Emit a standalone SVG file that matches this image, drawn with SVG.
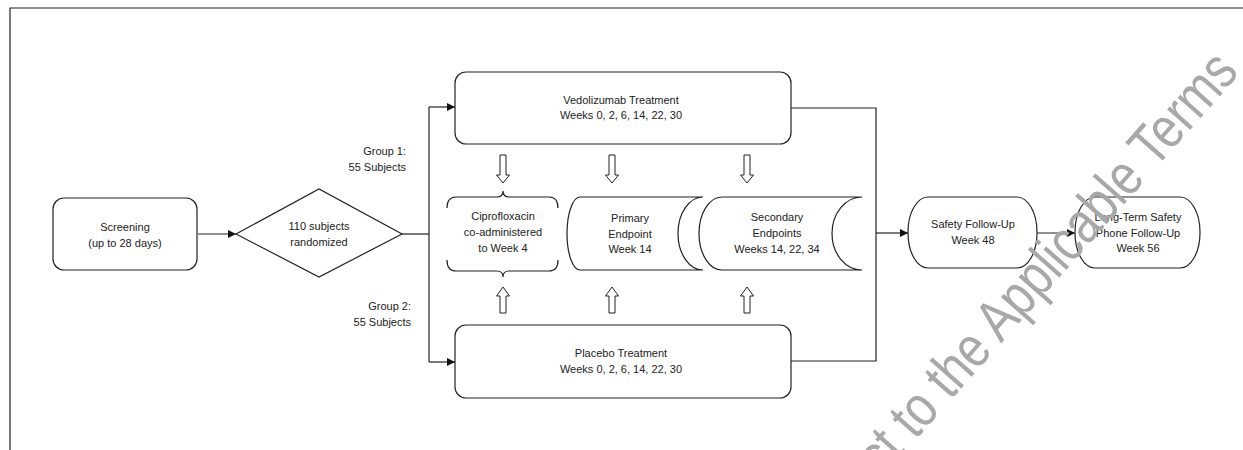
<svg xmlns="http://www.w3.org/2000/svg" width="1243" height="450" viewBox="0 0 1243 450">
  <defs>
    <marker id="ah" viewBox="0 0 10 10" refX="10" refY="5" markerWidth="8" markerHeight="8" markerUnits="userSpaceOnUse" orient="auto">
      <path d="M0,0 L10,5 L0,10 Z" fill="#111"/>
    </marker>
    <style>
      .box { fill: #fff; stroke: #222; stroke-width: 1.2; }
      .ln { fill: none; stroke: #222; stroke-width: 1.2; }
      .blk { fill: #fff; stroke: #222; stroke-width: 1; }
      text { font-family: "Liberation Sans", Arial, sans-serif; font-size: 11px; fill: #222; }
      .c { text-anchor: middle; }
      .r { text-anchor: end; }
      .wm { font-family: "Liberation Sans", Arial, sans-serif; font-size: 58px; fill: #a8a8a8; }
    </style>
  </defs>
  <rect width="1243" height="450" fill="#fff"/>
  <path class="ln" d="M10,450 L10,8 L1243,8"/>

  <g id="connectors">
    <path class="ln" d="M198,234 L236,234" marker-end="url(#ah)"/>
    <path class="ln" d="M402,234 L429,234"/>
    <path class="ln" d="M429,107 L429,362"/>
    <path class="ln" d="M429,107 L455,107" marker-end="url(#ah)"/>
    <path class="ln" d="M429,362 L455,362" marker-end="url(#ah)"/>
    <path class="ln" d="M791,108 L876,108 L876,361 L791,361"/>
    <path class="ln" d="M876,233 L908,233" marker-end="url(#ah)"/>
    <path class="ln" d="M1037,233 L1075,233" marker-end="url(#ah)"/>
    <path class="blk" d="M500,155 L506,155 L506,175 L509.5,175 L503,183 L496.5,175 L500,175 Z"/>
    <path class="blk" d="M609,155 L615,155 L615,175 L618.5,175 L612,183 L605.5,175 L609,175 Z"/>
    <path class="blk" d="M744,155 L750,155 L750,175 L753.5,175 L747,183 L740.5,175 L744,175 Z"/>
    <path class="blk" d="M500,313 L506,313 L506,296 L509.5,296 L503,287 L496.5,296 L500,296 Z"/>
    <path class="blk" d="M609,313 L615,313 L615,296 L618.5,296 L612,287 L605.5,296 L609,296 Z"/>
    <path class="blk" d="M744,313 L750,313 L750,296 L753.5,296 L747,287 L740.5,296 L744,296 Z"/>
  </g>

  <g id="screening">
    <rect class="box" x="53" y="198" width="144" height="72" rx="11"/>
    <text class="c" x="125" y="231">Screening</text>
    <text class="c" x="125" y="247">(up to 28 days)</text>
  </g>

  <g id="randomized">
    <path class="box" d="M236,234 L319,189 L402,234 L319,277 Z"/>
    <text class="c" x="319" y="230">110 subjects</text>
    <text class="c" x="319" y="246">randomized</text>
  </g>

  <g id="group1-label">
    <text class="r" x="406" y="155">Group 1:</text>
    <text class="r" x="406" y="171">55 Subjects</text>
  </g>
  <g id="group2-label">
    <text class="r" x="411" y="310">Group 2:</text>
    <text class="r" x="411" y="326">55 Subjects</text>
  </g>

  <g id="vedolizumab">
    <rect class="box" x="455" y="72" width="336" height="72" rx="11"/>
    <text class="c" x="621" y="104">Vedolizumab Treatment</text>
    <text class="c" x="621" y="119">Weeks 0, 2, 6, 14, 22, 30</text>
  </g>

  <g id="placebo">
    <rect class="box" x="455" y="325" width="336" height="73" rx="11"/>
    <text class="c" x="621" y="357">Placebo Treatment</text>
    <text class="c" x="621" y="373">Weeks 0, 2, 6, 14, 22, 30</text>
  </g>

  <g id="ciprofloxacin">
    <path class="ln" d="M447,208 Q447,197 456,197 L497,197 Q503,197 503,191 Q503,197 509,197 L549,197 Q558,197 558,208"/>
    <path class="ln" d="M447,260 Q447,271 456,271 L497,271 Q503,271 503,277 Q503,271 509,271 L549,271 Q558,271 558,260"/>
    <text class="c" x="503" y="220">Ciprofloxacin</text>
    <text class="c" x="503" y="236">co-administered</text>
    <text class="c" x="503" y="252">to Week 4</text>
  </g>

  <g id="primary-endpoint">
    <path class="box" d="M580,197 L703,197 A25,36.5 0 0 0 703,270 L580,270 A13,36.5 0 0 1 580,197 Z"/>
    <text class="c" x="630" y="222">Primary</text>
    <text class="c" x="630" y="238">Endpoint</text>
    <text class="c" x="630" y="253">Week 14</text>
  </g>

  <g id="secondary-endpoints">
    <path class="box" d="M722,197 L862,197 A30,36.5 0 0 0 862,270 L722,270 A23,36.5 0 0 1 722,197 Z"/>
    <text class="c" x="777" y="221">Secondary</text>
    <text class="c" x="777" y="237">Endpoints</text>
    <text class="c" x="777" y="253">Weeks 14, 22, 34</text>
  </g>

  <g id="safety-followup">
    <rect class="box" x="908" y="197" width="129" height="71" rx="20" ry="35"/>
    <text class="c" x="973" y="228">Safety Follow-Up</text>
    <text class="c" x="973" y="244">Week 48</text>
  </g>

  <g id="longterm-followup">
    <rect class="box" x="1075" y="197" width="125" height="71" rx="20" ry="35"/>
    <text class="c" x="1138" y="221">Long-Term Safety</text>
    <text class="c" x="1138" y="237">Phone Follow-Up</text>
    <text class="c" x="1138" y="252">Week 56</text>
  </g>

  <g id="watermark">
    <text class="wm" transform="translate(882,478) rotate(-48.5) scale(0.82,1)">ct to the Applicable Terms</text>
  </g>
</svg>
